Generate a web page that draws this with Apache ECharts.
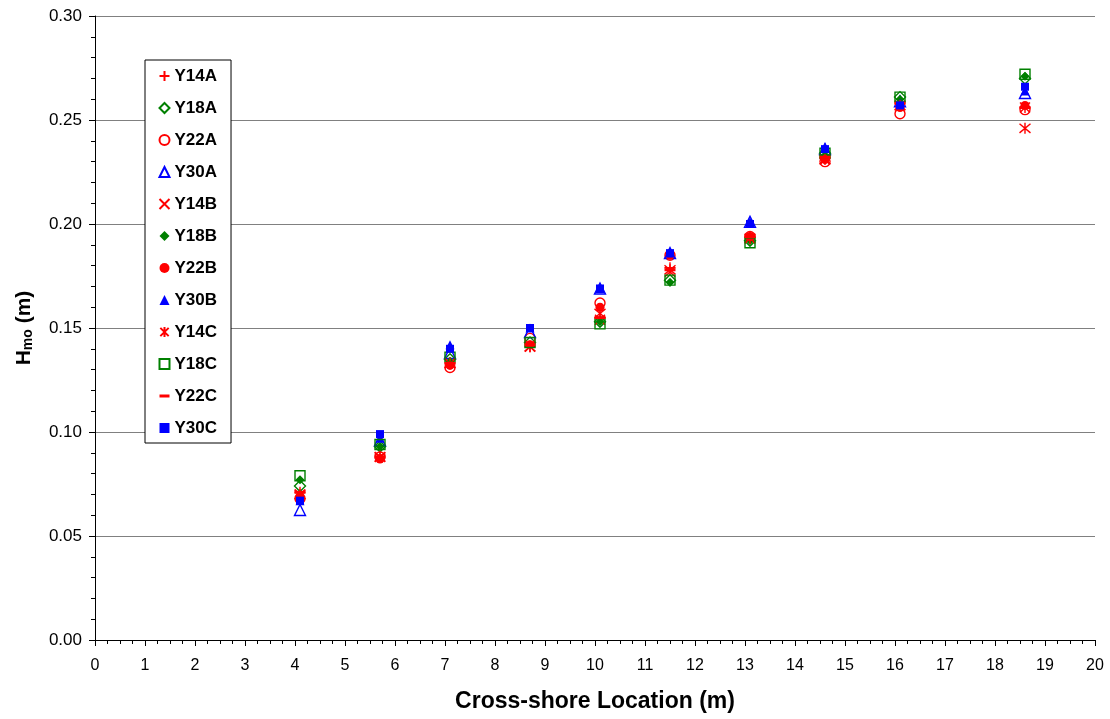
<!DOCTYPE html>
<html>
<head>
<meta charset="utf-8">
<script src="https://cdn.jsdelivr.net/npm/echarts@6/dist/echarts.min.js"></script>
<style>
  html, body { margin: 0; padding: 0; background: #fff; }
  #chart { width: 1110px; height: 719px; }
</style>
</head>
<body>
<div id="chart"></div>
<script>
// cross-shore stations (m)
const xLoc = [4.1, 5.7, 7.1, 8.7, 10.1, 11.5, 13.1, 14.6, 16.1, 18.6]

// Hmo (m) per test
const Y14A = [0.071, 0.089, 0.133, 0.141, 0.155, 0.179, 0.194, 0.232, 0.258, 0.256]
const Y18A = [0.074, 0.093, 0.135, 0.143, 0.153, 0.173, 0.192, 0.234, 0.261, 0.270]
const Y22A = [0.068, 0.088, 0.131, 0.145, 0.162, 0.185, 0.194, 0.230, 0.253, 0.255]
const Y30A = [0.0625, 0.096, 0.138, 0.148, 0.169, 0.186, 0.201, 0.236, 0.259, 0.263]
const Y14B = [0.070, 0.088, 0.133, 0.141, 0.154, 0.177, 0.193, 0.231, 0.257, 0.256]
const Y18B = [0.077, 0.093, 0.134, 0.142, 0.153, 0.172, 0.192, 0.233, 0.260, 0.271]
const Y22B = [0.069, 0.087, 0.132, 0.142, 0.160, 0.185, 0.194, 0.231, 0.256, 0.257]
const Y30B = [0.067, 0.097, 0.142, 0.150, 0.169, 0.186, 0.201, 0.237, 0.258, 0.264]
const Y14C = [0.070, 0.088, 0.133, 0.141, 0.157, 0.178, 0.193, 0.231, 0.257, 0.246]
const Y18C = [0.079, 0.094, 0.136, 0.143, 0.152, 0.173, 0.191, 0.234, 0.261, 0.272]
const Y22C = [0.071, 0.088, 0.133, 0.142, 0.155, 0.178, 0.194, 0.232, 0.258, 0.256]
const Y30C = [0.067, 0.099, 0.140, 0.150, 0.169, 0.186, 0.200, 0.236, 0.257, 0.266]

const RED = '#ff0000'
const GREEN = '#008000'
const BLUE = '#0000ff'

// marker shapes
const PLUS = 'path://M5,0 L5,10 M0,5 L10,5'
const CROSS = 'path://M0,0 L10,10 M10,0 L0,10'
const STAR = 'path://M0,0 L10,10 M10,0 L0,10 M5,-1 L5,11'
const DASH = 'path://M0,0 L10,0 L10,3 L0,3 Z'

// [name, data, symbol, size, color, open]
const defs = [
  ['Y14A', Y14A, PLUS, 11, RED, true],
  ['Y18A', Y18A, 'diamond', 11, GREEN, true],
  ['Y22A', Y22A, 'circle', 10, RED, true],
  ['Y30A', Y30A, 'triangle', 11, BLUE, true],
  ['Y14B', Y14B, CROSS, 10, RED, true],
  ['Y18B', Y18B, 'diamond', 9, GREEN, false],
  ['Y22B', Y22B, 'circle', 9, RED, false],
  ['Y30B', Y30B, 'triangle', 9, BLUE, false],
  ['Y14C', Y14C, STAR, 11, RED, true],
  ['Y18C', Y18C, 'rect', 10, GREEN, true],
  ['Y22C', Y22C, DASH, [11, 3], RED, false],
  ['Y30C', Y30C, 'rect', 8, BLUE, false]
]

const series = defs.map(d => ({
  name: d[0],
  type: 'scatter',
  symbol: d[2],
  symbolSize: d[3],
  data: xLoc.map((x, i) => [x, d[1][i]]),
  itemStyle: d[5]
    ? { color: 'none', borderColor: d[4], borderWidth: 1.4, opacity: 1 }
    : { color: d[4], opacity: 1 },
  emphasis: { disabled: true },
  z: 3
}))

const chart = echarts.init(document.getElementById('chart'))
chart.setOption({
  animation: false,
  textStyle: { fontFamily: 'Liberation Sans, Arial, sans-serif' },
  grid: { left: 95, right: 15, top: 16, bottom: 79 },
  legend: {
    orient: 'vertical',
    left: 145,
    top: 60,
    padding: [7, 14, 6, 12],
    itemGap: 14,
    itemWidth: 10,
    itemHeight: 10,
    borderColor: '#000',
    borderWidth: 1,
    backgroundColor: '#fff',
    textStyle: { fontSize: 17, fontWeight: 'bold', color: '#000', lineHeight: 18 },
    data: defs.map(d => d[0])
  },
  xAxis: {
    type: 'value',
    min: 0,
    max: 20,
    interval: 1,
    name: 'Cross-shore Location (m)',
    nameLocation: 'middle',
    nameGap: 50,
    nameTextStyle: { fontSize: 23, fontWeight: 'bold', color: '#000' },
    axisLine: { onZero: false, lineStyle: { color: '#000', width: 1 } },
    axisTick: { inside: false, length: 6, lineStyle: { color: '#000' } },
    minorTick: { show: true, splitNumber: 4, length: 4, lineStyle: { color: '#000' } },
    axisLabel: { fontSize: 16, color: '#000', margin: 18 },
    splitLine: { show: false }
  },
  yAxis: {
    type: 'value',
    min: 0,
    max: 0.3,
    interval: 0.05,
    name: '{h|H}{s|mo}{h| (m)}',
    nameLocation: 'middle',
    nameGap: 60,
    nameRotate: 90,
    nameTextStyle: {
      color: '#000',
      rich: {
        h: { fontSize: 21, fontWeight: 'bold', color: '#000' },
        s: { fontSize: 14, fontWeight: 'bold', color: '#000', verticalAlign: 'bottom', padding: [8, 0, 0, 0] }
      }
    },
    axisLine: { show: true, lineStyle: { color: '#000', width: 1 } },
    axisTick: { show: true, inside: false, length: 6, lineStyle: { color: '#000' } },
    minorTick: { show: true, splitNumber: 5, length: 4, lineStyle: { color: '#000' } },
    axisLabel: { fontSize: 17, color: '#000', margin: 13, formatter: v => v.toFixed(2) },
    splitLine: { show: true, lineStyle: { color: '#808080', width: 1 } }
  },
  series: series
})
</script>
</body>
</html>
